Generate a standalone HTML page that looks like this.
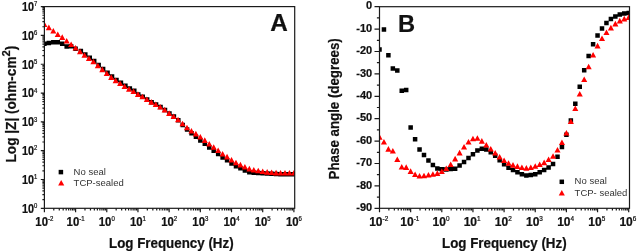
<!DOCTYPE html><html><head><meta charset="utf-8"><style>html,body{margin:0;padding:0;background:#fff;width:637px;height:251px;overflow:hidden}svg{display:block;will-change:transform}text{font-family:"Liberation Sans",sans-serif}</style></head><body>
<svg width="637" height="251" viewBox="0 0 637 251">
<rect width="637" height="251" fill="#fff"/>
<defs><clipPath id="cA"><rect x="44.4" y="6.6" width="250.29999999999998" height="201.70000000000002"/></clipPath><clipPath id="cB"><rect x="379.5" y="6.7" width="250.0" height="201.60000000000002"/></clipPath></defs>
<g clip-path="url(#cA)">
<path d="M42.15 41.55h4.5v4.5h-4.5zM46.61 40.65h4.5v4.5h-4.5zM51.06 40.05h4.5v4.5h-4.5zM55.52 40.05h4.5v4.5h-4.5zM59.97 41.55h4.5v4.5h-4.5zM64.43 44.15h4.5v4.5h-4.5zM68.88 43.95h4.5v4.5h-4.5zM73.34 46.55h4.5v4.5h-4.5zM78.59 48.65h4.5v4.5h-4.5zM83.05 52.25h4.5v4.5h-4.5zM87.50 55.55h4.5v4.5h-4.5zM91.96 58.75h4.5v4.5h-4.5zM96.41 62.75h4.5v4.5h-4.5zM100.87 66.65h4.5v4.5h-4.5zM105.32 70.45h4.5v4.5h-4.5zM109.78 74.35h4.5v4.5h-4.5zM114.24 77.65h4.5v4.5h-4.5zM118.69 80.55h4.5v4.5h-4.5zM123.15 83.45h4.5v4.5h-4.5zM127.60 86.15h4.5v4.5h-4.5zM132.06 88.55h4.5v4.5h-4.5zM136.01 92.15h4.5v4.5h-4.5zM140.47 94.55h4.5v4.5h-4.5zM144.92 97.25h4.5v4.5h-4.5zM149.38 99.95h4.5v4.5h-4.5zM153.83 102.35h4.5v4.5h-4.5zM158.29 104.85h4.5v4.5h-4.5zM162.74 107.65h4.5v4.5h-4.5zM167.20 111.15h4.5v4.5h-4.5zM171.66 114.35h4.5v4.5h-4.5zM176.06 118.12h4.5v4.5h-4.5zM180.47 122.68h4.5v4.5h-4.5zM184.87 127.25h4.5v4.5h-4.5zM189.28 131.12h4.5v4.5h-4.5zM193.68 134.48h4.5v4.5h-4.5zM198.09 138.15h4.5v4.5h-4.5zM202.54 141.55h4.5v4.5h-4.5zM207.00 145.25h4.5v4.5h-4.5zM211.45 148.45h4.5v4.5h-4.5zM215.91 151.65h4.5v4.5h-4.5zM220.36 155.15h4.5v4.5h-4.5zM224.82 158.05h4.5v4.5h-4.5zM229.27 161.25h4.5v4.5h-4.5zM233.73 163.95h4.5v4.5h-4.5zM238.19 166.05h4.5v4.5h-4.5zM242.64 168.15h4.5v4.5h-4.5zM247.10 170.05h4.5v4.5h-4.5zM251.55 170.60h4.5v4.5h-4.5zM256.01 170.85h4.5v4.5h-4.5zM260.46 171.00h4.5v4.5h-4.5zM264.92 171.15h4.5v4.5h-4.5zM269.37 171.55h4.5v4.5h-4.5zM273.83 171.85h4.5v4.5h-4.5zM278.28 171.95h4.5v4.5h-4.5zM282.74 172.05h4.5v4.5h-4.5zM287.19 172.05h4.5v4.5h-4.5zM291.65 172.05h4.5v4.5h-4.5z" fill="#000"/>
<path d="M44.40 21.50L47.45 27.10L41.35 27.10zM48.86 24.60L51.91 30.20L45.81 30.20zM53.31 27.90L56.36 33.50L50.26 33.50zM57.77 31.40L60.82 37.00L54.72 37.00zM62.22 34.30L65.27 39.90L59.17 39.90zM66.68 37.90L69.73 43.50L63.63 43.50zM71.13 41.50L74.18 47.10L68.08 47.10zM75.59 45.00L78.64 50.60L72.54 50.60zM80.04 48.60L83.09 54.20L76.99 54.20zM84.50 52.20L87.55 57.80L81.45 57.80zM88.95 55.50L92.00 61.10L85.90 61.10zM93.41 58.70L96.46 64.30L90.36 64.30zM97.86 62.70L100.91 68.30L94.81 68.30zM102.32 66.60L105.37 72.20L99.27 72.20zM106.77 70.40L109.82 76.00L103.72 76.00zM111.23 74.30L114.28 79.90L108.18 79.90zM115.69 77.60L118.74 83.20L112.64 83.20zM120.14 80.50L123.19 86.10L117.09 86.10zM124.60 83.40L127.65 89.00L121.55 89.00zM129.05 86.10L132.10 91.70L126.00 91.70zM133.51 88.50L136.56 94.10L130.46 94.10zM137.96 91.30L141.01 96.90L134.91 96.90zM142.42 93.70L145.47 99.30L139.37 99.30zM146.87 96.40L149.92 102.00L143.82 102.00zM151.33 99.10L154.38 104.70L148.28 104.70zM155.78 101.50L158.83 107.10L152.73 107.10zM160.24 104.00L163.29 109.60L157.19 109.60zM164.69 106.80L167.74 112.40L161.64 112.40zM169.15 110.30L172.20 115.90L166.10 115.90zM173.61 113.50L176.66 119.10L170.56 119.10zM178.06 116.70L181.11 122.30L175.01 122.30zM182.52 120.70L185.57 126.30L179.47 126.30zM186.97 124.70L190.02 130.30L183.92 130.30zM191.43 128.00L194.48 133.60L188.38 133.60zM195.88 130.80L198.93 136.40L192.83 136.40zM200.34 133.90L203.39 139.50L197.29 139.50zM204.79 137.30L207.84 142.90L201.74 142.90zM209.25 141.00L212.30 146.60L206.20 146.60zM213.70 144.20L216.75 149.80L210.65 149.80zM218.16 147.40L221.21 153.00L215.11 153.00zM222.61 150.90L225.66 156.50L219.56 156.50zM227.07 153.80L230.12 159.40L224.02 159.40zM231.52 157.00L234.57 162.60L228.47 162.60zM235.98 159.70L239.03 165.30L232.93 165.30zM240.44 161.80L243.49 167.40L237.39 167.40zM244.89 163.90L247.94 169.50L241.84 169.50zM249.35 165.80L252.40 171.40L246.30 171.40zM253.80 166.90L256.85 172.50L250.75 172.50zM258.26 167.70L261.31 173.30L255.21 173.30zM262.71 168.40L265.76 174.00L259.66 174.00zM267.17 169.10L270.22 174.70L264.12 174.70zM271.62 169.50L274.67 175.10L268.57 175.10zM276.08 169.80L279.13 175.40L273.03 175.40zM280.53 169.90L283.58 175.50L277.48 175.50zM284.99 170.00L288.04 175.60L281.94 175.60zM289.44 170.00L292.49 175.60L286.39 175.60zM293.90 170.00L296.95 175.60L290.85 175.60z" fill="#f00"/>
</g>
<g clip-path="url(#cB)">
<path d="M377.25 47.25h4.5v4.5h-4.5zM381.70 27.25h4.5v4.5h-4.5zM386.15 53.05h4.5v4.5h-4.5zM390.60 66.25h4.5v4.5h-4.5zM395.05 68.25h4.5v4.5h-4.5zM399.50 88.55h4.5v4.5h-4.5zM403.95 87.75h4.5v4.5h-4.5zM408.40 125.25h4.5v4.5h-4.5zM412.85 136.95h4.5v4.5h-4.5zM417.30 147.25h4.5v4.5h-4.5zM421.75 152.75h4.5v4.5h-4.5zM426.20 158.15h4.5v4.5h-4.5zM430.65 162.75h4.5v4.5h-4.5zM435.10 166.25h4.5v4.5h-4.5zM439.55 167.05h4.5v4.5h-4.5zM444.00 167.25h4.5v4.5h-4.5zM448.45 166.75h4.5v4.5h-4.5zM452.90 166.45h4.5v4.5h-4.5zM457.35 163.25h4.5v4.5h-4.5zM461.80 159.75h4.5v4.5h-4.5zM466.25 155.75h4.5v4.5h-4.5zM470.70 151.95h4.5v4.5h-4.5zM475.15 148.15h4.5v4.5h-4.5zM479.60 146.55h4.5v4.5h-4.5zM484.05 147.15h4.5v4.5h-4.5zM488.50 150.05h4.5v4.5h-4.5zM492.95 153.55h4.5v4.5h-4.5zM497.40 158.05h4.5v4.5h-4.5zM501.85 162.05h4.5v4.5h-4.5zM506.30 165.55h4.5v4.5h-4.5zM510.75 167.75h4.5v4.5h-4.5zM515.20 169.95h4.5v4.5h-4.5zM519.65 171.95h4.5v4.5h-4.5zM524.10 173.15h4.5v4.5h-4.5zM528.55 172.85h4.5v4.5h-4.5zM533.00 171.95h4.5v4.5h-4.5zM537.45 170.05h4.5v4.5h-4.5zM541.90 167.65h4.5v4.5h-4.5zM546.35 165.25h4.5v4.5h-4.5zM550.80 161.65h4.5v4.5h-4.5zM555.25 154.45h4.5v4.5h-4.5zM559.70 144.75h4.5v4.5h-4.5zM564.15 132.45h4.5v4.5h-4.5zM568.60 118.15h4.5v4.5h-4.5zM573.05 101.55h4.5v4.5h-4.5zM577.50 84.55h4.5v4.5h-4.5zM581.95 67.95h4.5v4.5h-4.5zM586.40 53.65h4.5v4.5h-4.5zM590.85 42.05h4.5v4.5h-4.5zM595.30 33.25h4.5v4.5h-4.5zM599.75 26.25h4.5v4.5h-4.5zM604.20 20.65h4.5v4.5h-4.5zM608.65 16.65h4.5v4.5h-4.5zM613.10 14.15h4.5v4.5h-4.5zM617.55 12.15h4.5v4.5h-4.5zM622.00 11.15h4.5v4.5h-4.5zM626.45 10.75h4.5v4.5h-4.5z" fill="#000"/>
<path d="M379.50 134.10L382.55 139.70L376.45 139.70zM383.95 138.90L387.00 144.50L380.90 144.50zM388.40 146.10L391.45 151.70L385.35 151.70zM392.85 148.00L395.90 153.60L389.80 153.60zM397.30 156.40L400.35 162.00L394.25 162.00zM401.75 164.00L404.80 169.60L398.70 169.60zM406.20 164.30L409.25 169.90L403.15 169.90zM410.65 168.30L413.70 173.90L407.60 173.90zM415.10 171.40L418.15 177.00L412.05 177.00zM419.55 172.90L422.60 178.50L416.50 178.50zM424.00 172.70L427.05 178.30L420.95 178.30zM428.45 172.00L431.50 177.60L425.40 177.60zM432.90 171.20L435.95 176.80L429.85 176.80zM437.35 170.30L440.40 175.90L434.30 175.90zM441.80 168.50L444.85 174.10L438.75 174.10zM446.25 165.50L449.30 171.10L443.20 171.10zM450.70 161.40L453.75 167.00L447.65 167.00zM455.15 155.80L458.20 161.40L452.10 161.40zM459.60 149.80L462.65 155.40L456.55 155.40zM464.05 143.90L467.10 149.50L461.00 149.50zM468.50 138.90L471.55 144.50L465.45 144.50zM472.95 135.70L476.00 141.30L469.90 141.30zM477.40 135.20L480.45 140.80L474.35 140.80zM481.85 138.10L484.90 143.70L478.80 143.70zM486.30 142.00L489.35 147.60L483.25 147.60zM490.75 146.00L493.80 151.60L487.70 151.60zM495.20 149.90L498.25 155.50L492.15 155.50zM499.65 153.90L502.70 159.50L496.60 159.50zM504.10 157.40L507.15 163.00L501.05 163.00zM508.55 160.20L511.60 165.80L505.50 165.80zM513.00 162.10L516.05 167.70L509.95 167.70zM517.45 163.30L520.50 168.90L514.40 168.90zM521.90 164.40L524.95 170.00L518.85 170.00zM526.35 165.10L529.40 170.70L523.30 170.70zM530.80 164.40L533.85 170.00L527.75 170.00zM535.25 163.20L538.30 168.80L532.20 168.80zM539.70 161.50L542.75 167.10L536.65 167.10zM544.15 159.60L547.20 165.20L541.10 165.20zM548.60 156.50L551.65 162.10L545.55 162.10zM553.05 153.20L556.10 158.80L550.00 158.80zM557.50 146.90L560.55 152.50L554.45 152.50zM561.95 139.50L565.00 145.10L558.90 145.10zM566.40 130.00L569.45 135.60L563.35 135.60zM570.85 118.40L573.90 124.00L567.80 124.00zM575.30 105.50L578.35 111.10L572.25 111.10zM579.75 90.90L582.80 96.50L576.70 96.50zM584.20 76.40L587.25 82.00L581.15 82.00zM588.65 63.70L591.70 69.30L585.60 69.30zM593.10 51.90L596.15 57.50L590.05 57.50zM597.55 42.80L600.60 48.40L594.50 48.40zM602.00 35.40L605.05 41.00L598.95 41.00zM606.45 29.40L609.50 35.00L603.40 35.00zM610.90 24.80L613.95 30.40L607.85 30.40zM615.35 20.80L618.40 26.40L612.30 26.40zM619.80 17.80L622.85 23.40L616.75 23.40zM624.25 15.80L627.30 21.40L621.20 21.40zM628.70 14.30L631.75 19.90L625.65 19.90z" fill="#f00"/>
</g>
<rect x="44.4" y="6.6" width="250.29999999999998" height="201.70000000000002" fill="none" stroke="#1a1a1a" stroke-width="1.2"/>
<path d="M44.40 208.30v4M53.79 208.30v2.2M59.28 208.30v2.2M63.18 208.30v2.2M66.20 208.30v2.2M68.67 208.30v2.2M70.76 208.30v2.2M72.57 208.30v2.2M74.16 208.30v2.2M75.59 208.30v4M84.98 208.30v2.2M90.47 208.30v2.2M94.36 208.30v2.2M97.39 208.30v2.2M99.86 208.30v2.2M101.94 208.30v2.2M103.75 208.30v2.2M105.35 208.30v2.2M106.77 208.30v4M116.16 208.30v2.2M121.66 208.30v2.2M125.55 208.30v2.2M128.57 208.30v2.2M131.04 208.30v2.2M133.13 208.30v2.2M134.94 208.30v2.2M136.54 208.30v2.2M137.96 208.30v4M147.35 208.30v2.2M152.84 208.30v2.2M156.74 208.30v2.2M159.76 208.30v2.2M162.23 208.30v2.2M164.32 208.30v2.2M166.13 208.30v2.2M167.72 208.30v2.2M169.15 208.30v4M178.54 208.30v2.2M184.03 208.30v2.2M187.93 208.30v2.2M190.95 208.30v2.2M193.42 208.30v2.2M195.51 208.30v2.2M197.32 208.30v2.2M198.91 208.30v2.2M200.34 208.30v4M209.73 208.30v2.2M215.22 208.30v2.2M219.11 208.30v2.2M222.14 208.30v2.2M224.61 208.30v2.2M226.69 208.30v2.2M228.50 208.30v2.2M230.10 208.30v2.2M231.52 208.30v4M240.91 208.30v2.2M246.41 208.30v2.2M250.30 208.30v2.2M253.32 208.30v2.2M255.79 208.30v2.2M257.88 208.30v2.2M259.69 208.30v2.2M261.29 208.30v2.2M262.71 208.30v4M272.10 208.30v2.2M277.59 208.30v2.2M281.49 208.30v2.2M284.51 208.30v2.2M286.98 208.30v2.2M289.07 208.30v2.2M290.88 208.30v2.2M292.47 208.30v2.2M293.90 208.30v4M44.40 208.30h-3.6M44.40 199.63h-2M44.40 194.55h-2M44.40 190.95h-2M44.40 188.16h-2M44.40 185.88h-2M44.40 183.95h-2M44.40 182.28h-2M44.40 180.80h-2M44.40 179.49h-3.6M44.40 170.81h-2M44.40 165.74h-2M44.40 162.14h-2M44.40 159.35h-2M44.40 157.06h-2M44.40 155.13h-2M44.40 153.46h-2M44.40 151.99h-2M44.40 150.67h-3.6M44.40 142.00h-2M44.40 136.92h-2M44.40 133.32h-2M44.40 130.53h-2M44.40 128.25h-2M44.40 126.32h-2M44.40 124.65h-2M44.40 123.18h-2M44.40 121.86h-3.6M44.40 113.18h-2M44.40 108.11h-2M44.40 104.51h-2M44.40 101.72h-2M44.40 99.44h-2M44.40 97.51h-2M44.40 95.84h-2M44.40 94.36h-2M44.40 93.04h-3.6M44.40 84.37h-2M44.40 79.29h-2M44.40 75.69h-2M44.40 72.90h-2M44.40 70.62h-2M44.40 68.69h-2M44.40 67.02h-2M44.40 65.55h-2M44.40 64.23h-3.6M44.40 55.55h-2M44.40 50.48h-2M44.40 46.88h-2M44.40 44.09h-2M44.40 41.81h-2M44.40 39.88h-2M44.40 38.21h-2M44.40 36.73h-2M44.40 35.41h-3.6M44.40 26.74h-2M44.40 21.67h-2M44.40 18.07h-2M44.40 15.27h-2M44.40 12.99h-2M44.40 11.06h-2M44.40 9.39h-2M44.40 7.92h-2M44.40 6.60h-3.6" stroke="#1a1a1a" stroke-width="1.2" fill="none"/>
<rect x="379.5" y="6.7" width="250.0" height="201.60000000000002" fill="none" stroke="#1a1a1a" stroke-width="1.2"/>
<path d="M379.50 208.30v4M388.88 208.30v2.2M394.36 208.30v2.2M398.25 208.30v2.2M401.27 208.30v2.2M403.74 208.30v2.2M405.82 208.30v2.2M407.63 208.30v2.2M409.22 208.30v2.2M410.65 208.30v4M420.03 208.30v2.2M425.51 208.30v2.2M429.40 208.30v2.2M432.42 208.30v2.2M434.89 208.30v2.2M436.97 208.30v2.2M438.78 208.30v2.2M440.37 208.30v2.2M441.80 208.30v4M451.18 208.30v2.2M456.66 208.30v2.2M460.55 208.30v2.2M463.57 208.30v2.2M466.04 208.30v2.2M468.12 208.30v2.2M469.93 208.30v2.2M471.52 208.30v2.2M472.95 208.30v4M482.33 208.30v2.2M487.81 208.30v2.2M491.70 208.30v2.2M494.72 208.30v2.2M497.19 208.30v2.2M499.27 208.30v2.2M501.08 208.30v2.2M502.67 208.30v2.2M504.10 208.30v4M513.48 208.30v2.2M518.96 208.30v2.2M522.85 208.30v2.2M525.87 208.30v2.2M528.34 208.30v2.2M530.42 208.30v2.2M532.23 208.30v2.2M533.82 208.30v2.2M535.25 208.30v4M544.63 208.30v2.2M550.11 208.30v2.2M554.00 208.30v2.2M557.02 208.30v2.2M559.49 208.30v2.2M561.57 208.30v2.2M563.38 208.30v2.2M564.97 208.30v2.2M566.40 208.30v4M575.78 208.30v2.2M581.26 208.30v2.2M585.15 208.30v2.2M588.17 208.30v2.2M590.64 208.30v2.2M592.72 208.30v2.2M594.53 208.30v2.2M596.12 208.30v2.2M597.55 208.30v4M606.93 208.30v2.2M612.41 208.30v2.2M616.30 208.30v2.2M619.32 208.30v2.2M621.79 208.30v2.2M623.87 208.30v2.2M625.68 208.30v2.2M627.27 208.30v2.2M628.70 208.30v4M379.50 6.70h-5M379.50 17.90h-2.6M379.50 29.10h-5M379.50 40.30h-2.6M379.50 51.50h-5M379.50 62.70h-2.6M379.50 73.90h-5M379.50 85.10h-2.6M379.50 96.30h-5M379.50 107.50h-2.6M379.50 118.70h-5M379.50 129.90h-2.6M379.50 141.10h-5M379.50 152.30h-2.6M379.50 163.50h-5M379.50 174.70h-2.6M379.50 185.90h-5M379.50 197.10h-2.6M379.50 208.30h-5" stroke="#1a1a1a" stroke-width="1.2" fill="none"/>
<text transform="translate(44.40 225.6) scale(0.95 1)" text-anchor="middle" font-size="12" font-weight="bold" fill="#111" stroke="#111" stroke-width="0.22">10<tspan dy="-5.0" font-size="6.4" font-weight="normal">-2</tspan></text>
<text transform="translate(378.70 225.6) scale(1.0 1)" text-anchor="middle" font-size="12" font-weight="bold" fill="#111" stroke="#111" stroke-width="0.22">10<tspan dy="-5.0" font-size="6.4" font-weight="normal">-2</tspan></text>
<text transform="translate(75.59 225.6) scale(0.95 1)" text-anchor="middle" font-size="12" font-weight="bold" fill="#111" stroke="#111" stroke-width="0.22">10<tspan dy="-5.0" font-size="6.4" font-weight="normal">-1</tspan></text>
<text transform="translate(409.85 225.6) scale(1.0 1)" text-anchor="middle" font-size="12" font-weight="bold" fill="#111" stroke="#111" stroke-width="0.22">10<tspan dy="-5.0" font-size="6.4" font-weight="normal">-1</tspan></text>
<text transform="translate(106.77 225.6) scale(0.95 1)" text-anchor="middle" font-size="12" font-weight="bold" fill="#111" stroke="#111" stroke-width="0.22">10<tspan dy="-5.0" font-size="6.4" font-weight="normal">0</tspan></text>
<text transform="translate(441.00 225.6) scale(1.0 1)" text-anchor="middle" font-size="12" font-weight="bold" fill="#111" stroke="#111" stroke-width="0.22">10<tspan dy="-5.0" font-size="6.4" font-weight="normal">0</tspan></text>
<text transform="translate(137.96 225.6) scale(0.95 1)" text-anchor="middle" font-size="12" font-weight="bold" fill="#111" stroke="#111" stroke-width="0.22">10<tspan dy="-5.0" font-size="6.4" font-weight="normal">1</tspan></text>
<text transform="translate(472.15 225.6) scale(1.0 1)" text-anchor="middle" font-size="12" font-weight="bold" fill="#111" stroke="#111" stroke-width="0.22">10<tspan dy="-5.0" font-size="6.4" font-weight="normal">1</tspan></text>
<text transform="translate(169.15 225.6) scale(0.95 1)" text-anchor="middle" font-size="12" font-weight="bold" fill="#111" stroke="#111" stroke-width="0.22">10<tspan dy="-5.0" font-size="6.4" font-weight="normal">2</tspan></text>
<text transform="translate(503.30 225.6) scale(1.0 1)" text-anchor="middle" font-size="12" font-weight="bold" fill="#111" stroke="#111" stroke-width="0.22">10<tspan dy="-5.0" font-size="6.4" font-weight="normal">2</tspan></text>
<text transform="translate(200.34 225.6) scale(0.95 1)" text-anchor="middle" font-size="12" font-weight="bold" fill="#111" stroke="#111" stroke-width="0.22">10<tspan dy="-5.0" font-size="6.4" font-weight="normal">3</tspan></text>
<text transform="translate(534.45 225.6) scale(1.0 1)" text-anchor="middle" font-size="12" font-weight="bold" fill="#111" stroke="#111" stroke-width="0.22">10<tspan dy="-5.0" font-size="6.4" font-weight="normal">3</tspan></text>
<text transform="translate(231.52 225.6) scale(0.95 1)" text-anchor="middle" font-size="12" font-weight="bold" fill="#111" stroke="#111" stroke-width="0.22">10<tspan dy="-5.0" font-size="6.4" font-weight="normal">4</tspan></text>
<text transform="translate(565.60 225.6) scale(1.0 1)" text-anchor="middle" font-size="12" font-weight="bold" fill="#111" stroke="#111" stroke-width="0.22">10<tspan dy="-5.0" font-size="6.4" font-weight="normal">4</tspan></text>
<text transform="translate(262.71 225.6) scale(0.95 1)" text-anchor="middle" font-size="12" font-weight="bold" fill="#111" stroke="#111" stroke-width="0.22">10<tspan dy="-5.0" font-size="6.4" font-weight="normal">5</tspan></text>
<text transform="translate(596.75 225.6) scale(1.0 1)" text-anchor="middle" font-size="12" font-weight="bold" fill="#111" stroke="#111" stroke-width="0.22">10<tspan dy="-5.0" font-size="6.4" font-weight="normal">5</tspan></text>
<text transform="translate(293.90 225.6) scale(0.95 1)" text-anchor="middle" font-size="12" font-weight="bold" fill="#111" stroke="#111" stroke-width="0.22">10<tspan dy="-5.0" font-size="6.4" font-weight="normal">6</tspan></text>
<text transform="translate(627.90 225.6) scale(1.0 1)" text-anchor="middle" font-size="12" font-weight="bold" fill="#111" stroke="#111" stroke-width="0.22">10<tspan dy="-5.0" font-size="6.4" font-weight="normal">6</tspan></text>
<text transform="translate(37.4 212.70) scale(0.9 1)" text-anchor="end" font-size="12" font-weight="bold" fill="#111" stroke="#111" stroke-width="0.22">10<tspan dy="-4.7" font-size="6.6" font-weight="normal">0</tspan></text>
<text transform="translate(37.4 183.89) scale(0.9 1)" text-anchor="end" font-size="12" font-weight="bold" fill="#111" stroke="#111" stroke-width="0.22">10<tspan dy="-4.7" font-size="6.6" font-weight="normal">1</tspan></text>
<text transform="translate(37.4 155.07) scale(0.9 1)" text-anchor="end" font-size="12" font-weight="bold" fill="#111" stroke="#111" stroke-width="0.22">10<tspan dy="-4.7" font-size="6.6" font-weight="normal">2</tspan></text>
<text transform="translate(37.4 126.26) scale(0.9 1)" text-anchor="end" font-size="12" font-weight="bold" fill="#111" stroke="#111" stroke-width="0.22">10<tspan dy="-4.7" font-size="6.6" font-weight="normal">3</tspan></text>
<text transform="translate(37.4 97.44) scale(0.9 1)" text-anchor="end" font-size="12" font-weight="bold" fill="#111" stroke="#111" stroke-width="0.22">10<tspan dy="-4.7" font-size="6.6" font-weight="normal">4</tspan></text>
<text transform="translate(37.4 68.63) scale(0.9 1)" text-anchor="end" font-size="12" font-weight="bold" fill="#111" stroke="#111" stroke-width="0.22">10<tspan dy="-4.7" font-size="6.6" font-weight="normal">5</tspan></text>
<text transform="translate(37.4 39.81) scale(0.9 1)" text-anchor="end" font-size="12" font-weight="bold" fill="#111" stroke="#111" stroke-width="0.22">10<tspan dy="-4.7" font-size="6.6" font-weight="normal">6</tspan></text>
<text transform="translate(37.4 11.00) scale(0.9 1)" text-anchor="end" font-size="12" font-weight="bold" fill="#111" stroke="#111" stroke-width="0.22">10<tspan dy="-4.7" font-size="6.6" font-weight="normal">7</tspan></text>
<text x="372.2" y="9.40" text-anchor="end" font-size="11" font-weight="bold" fill="#111" stroke="#111" stroke-width="0.22">0</text>
<text x="372.2" y="31.80" text-anchor="end" font-size="11" font-weight="bold" fill="#111" stroke="#111" stroke-width="0.22">-10</text>
<text x="372.2" y="54.20" text-anchor="end" font-size="11" font-weight="bold" fill="#111" stroke="#111" stroke-width="0.22">-20</text>
<text x="372.2" y="76.60" text-anchor="end" font-size="11" font-weight="bold" fill="#111" stroke="#111" stroke-width="0.22">-30</text>
<text x="372.2" y="99.00" text-anchor="end" font-size="11" font-weight="bold" fill="#111" stroke="#111" stroke-width="0.22">-40</text>
<text x="372.2" y="121.40" text-anchor="end" font-size="11" font-weight="bold" fill="#111" stroke="#111" stroke-width="0.22">-50</text>
<text x="372.2" y="143.80" text-anchor="end" font-size="11" font-weight="bold" fill="#111" stroke="#111" stroke-width="0.22">-60</text>
<text x="372.2" y="166.20" text-anchor="end" font-size="11" font-weight="bold" fill="#111" stroke="#111" stroke-width="0.22">-70</text>
<text x="372.2" y="188.60" text-anchor="end" font-size="11" font-weight="bold" fill="#111" stroke="#111" stroke-width="0.22">-80</text>
<text x="372.2" y="211.00" text-anchor="end" font-size="11" font-weight="bold" fill="#111" stroke="#111" stroke-width="0.22">-90</text>
<text x="109" y="247.5" font-size="14" font-weight="bold" fill="#111" stroke="#111" stroke-width="0.22" textLength="124.6" lengthAdjust="spacingAndGlyphs">Log Frequency (Hz)</text>
<text x="442" y="247.5" font-size="14" font-weight="bold" fill="#111" stroke="#111" stroke-width="0.22" textLength="124.6" lengthAdjust="spacingAndGlyphs">Log Frequency (Hz)</text>
<text transform="translate(15.8 162.5) rotate(-90)" font-size="13.8" font-weight="bold" fill="#111" stroke="#111" stroke-width="0.22" textLength="116.9" lengthAdjust="spacingAndGlyphs">Log |Z| (ohm-cm<tspan dy="-6" font-size="11.5">2</tspan><tspan dy="6">)</tspan></text>
<text transform="translate(339.1 179.4) rotate(-90)" font-size="13.8" font-weight="bold" fill="#111" stroke="#111" stroke-width="0.22" textLength="141.2" lengthAdjust="spacingAndGlyphs">Phase angle (degrees)</text>
<text x="270.2" y="30.8" font-size="24.3" font-weight="bold" fill="#111" stroke="#111" stroke-width="0.22">A</text>
<text x="398.0" y="31.8" font-size="23.7" font-weight="bold" fill="#111" stroke="#111" stroke-width="0.22">B</text>
<path d="M58.65 169.85h4.5v4.5h-4.5z" fill="#000"/><path d="M61.20 179.90L64.25 185.50L58.15 185.50z" fill="#f00"/>
<text x="73.6" y="175.2" font-size="9.5" fill="#333">No seal</text>
<text x="73.6" y="186.1" font-size="9.5" fill="#333">TCP-sealed</text>
<path d="M559.55 179.55h4.5v4.5h-4.5z" fill="#000"/><path d="M561.80 189.90L564.85 195.50L558.75 195.50z" fill="#f00"/>
<text x="574.6" y="184.4" font-size="9.5" fill="#333">No seal</text>
<text x="574.6" y="196.0" font-size="9.5" fill="#333">TCP- sealed</text>
</svg></body></html>
